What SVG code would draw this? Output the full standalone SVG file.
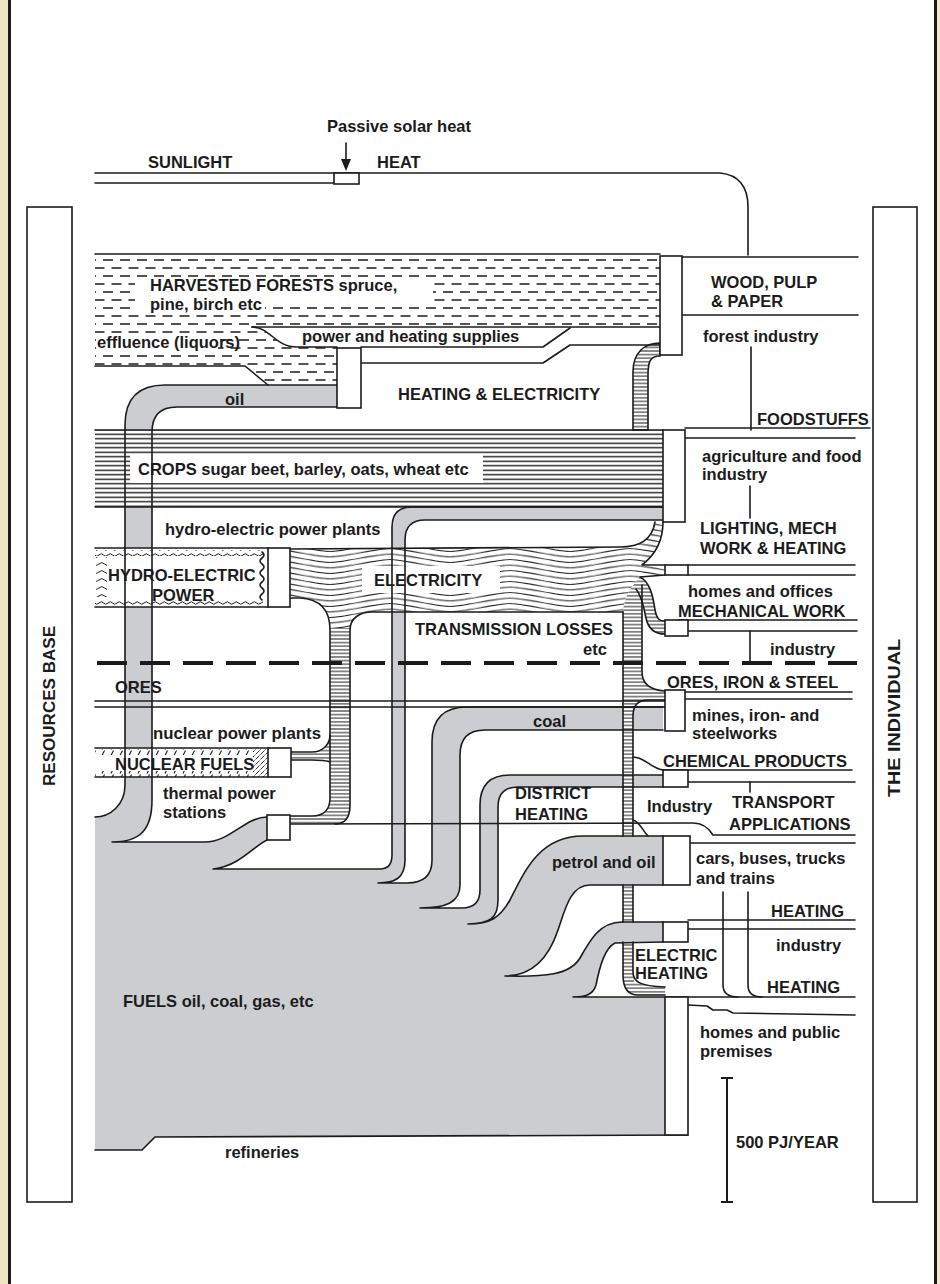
<svg xmlns="http://www.w3.org/2000/svg" width="940" height="1284" viewBox="0 0 940 1284">
<defs>
<style>
.ln{fill:none;stroke:#1b1b1b;stroke-width:1.6;stroke-linecap:round;stroke-linejoin:round}
.box{fill:#fff;stroke:#1b1b1b;stroke-width:1.6}
.gray{fill:#cbcdd0}
.wh{fill:#fff}
.t{font-family:"Liberation Sans",Arial,Helvetica,sans-serif;font-weight:bold;font-size:16.5px;fill:#1b1b1b}
</style>
<pattern id="dash" width="17" height="16" patternUnits="userSpaceOnUse">
<path d="M1 4H11M9.5 12H19.5M-7.5 12H2.5" stroke="#1b1b1b" stroke-width="1.5"/>
</pattern>
<pattern id="lines" width="10" height="4.5" patternUnits="userSpaceOnUse">
<path d="M0 2.25H10" stroke="#1b1b1b" stroke-width="1.4"/>
</pattern>
<pattern id="stripe" width="10" height="3.6" patternUnits="userSpaceOnUse">
<path d="M0 1.8H10" stroke="#1b1b1b" stroke-width="1"/>
</pattern>
<pattern id="wave" width="120" height="5.5" patternUnits="userSpaceOnUse">
<path d="M0 2.75C30 -2.75 30 -2.75 60 2.75S90 8.25 120 2.75M0 -2.75C30 -8.25 30 -8.25 60 -2.75S90 2.75 120 -2.75M0 8.25C30 2.75 30 2.75 60 8.25S90 13.75 120 8.25" fill="none" stroke="#1b1b1b" stroke-width="1"/>
</pattern>
<pattern id="ripple" width="9" height="6" patternUnits="userSpaceOnUse">
<path d="M0 3Q2.25 0.5 4.5 3T9 3" fill="none" stroke="#1b1b1b" stroke-width="1"/>
</pattern>
<pattern id="ripple2" width="11" height="8" patternUnits="userSpaceOnUse">
<path d="M0 4Q2.75 1 5.5 4T11 4" fill="none" stroke="#1b1b1b" stroke-width="1"/>
</pattern>
<pattern id="tick" width="9" height="6" patternUnits="userSpaceOnUse">
<path d="M3 5.5L5.5 0.5" stroke="#1b1b1b" stroke-width="1.1"/>
</pattern>
<pattern id="tick2" width="5" height="5" patternUnits="userSpaceOnUse">
<path d="M0.5 4.5L4.5 0.5" stroke="#1b1b1b" stroke-width="0.9"/>
</pattern>
</defs>

<rect width="940" height="1284" fill="#fff"/>

<g id="frame">
<rect x="0" y="0" width="8" height="1284" fill="#f1e6c4"/>
<rect x="937" y="0" width="3" height="1284" fill="#f1e6c4"/>
<path d="M9.5 0V1284M935.5 0V1284" stroke="#1b1b1b" stroke-width="3"/>
</g>

<g id="resources-base">
<rect x="27" y="207" width="45" height="995" class="box"/>
<text class="t" transform="translate(55 706) rotate(-90)" text-anchor="middle" font-size="15" textLength="160" lengthAdjust="spacingAndGlyphs">RESOURCES BASE</text>
</g>

<g id="the-individual">
<rect x="873" y="207" width="44" height="995" class="box"/>
<text class="t" transform="translate(900 718) rotate(-90)" text-anchor="middle" font-size="15" textLength="158" lengthAdjust="spacingAndGlyphs">THE INDIVIDUAL</text>
</g>

<g id="fuels">
<path class="gray" d="M95 1150L95 817C110 817 125 805 125 785L152 785L152 800C152 830 140 842 112 842L205 842C230 842 245 817 267 817L267 840C255 845 240 866 213 869L380 869Q392 869 392 855L392 830L405 830L405 860C405 878 395 883 378 883L407 883Q432 883 432 860L432 830L460 830L460 885C460 903 445 908 420 908L462 908Q480 908 480 890L480 830L498 830L498 900C498 918 490 924 468 924C490 924 500 918 510 900C525 870 540 836 583 836L663 836L663 885L590 885C570 885 565 910 558 930C548 960 530 976 505 976C545 977 570 975 580 958C590 940 600 922 622 922L663 922L663 942L615 943C605 948 600 965 596 985C593 995 585 997 573 997L665 997L665 1135L155 1137L142 1150Z"/>
<path class="gray" d="M337 385L165 385Q125 385 125 425L125 790L152 790L152 432Q152 407 177 407L337 407Z"/>
<path class="gray" d="M663 507L412 507Q392 507 392 527L392 835L405 835L405 540Q405 520 425 520L663 520Z"/>
<path class="gray" d="M663 707L467 707Q432 707 432 742L432 835L460 835L460 755Q460 730 485 730L663 730Z"/>
<path class="gray" d="M663 775L510 775Q480 775 480 805L480 835L498 835L498 807Q498 787 518 787L663 787Z"/>
</g>

<g id="forests">
<path class="wh" d="M95 254H660V327H252C270 327 275 347 297 347H337V385H268L245 366H95Z"/>
<path fill="url(#dash)" d="M95 254H660V327H252C270 327 275 347 297 347H337V385H268L245 366H95Z"/>
<rect x="135" y="277" width="298" height="25" class="wh"/>
<rect x="135" y="300" width="130" height="15" class="wh"/>
<rect x="96" y="334" width="122" height="18" class="wh"/>
</g>

<g id="crops">
<rect x="95" y="430" width="568" height="77" class="wh"/>
<rect x="95" y="430" width="568" height="77" fill="url(#lines)"/>
<rect x="130" y="455" width="353" height="28" class="wh"/>
</g>

<g id="hydro">
<rect x="95" y="548" width="173" height="59" class="wh"/>
<rect x="95" y="550" width="168" height="6" fill="url(#ripple)"/>
<rect x="95" y="599" width="168" height="6" fill="url(#ripple)"/>
<rect x="96" y="557" width="11" height="40" fill="url(#ripple2)"/>
<path class="ln" stroke-width="1.1" d="M262 552q4 3 0 6q-4 3 0 6q4 3 0 6q-4 3 0 6q4 3 0 6q-4 3 0 6q4 3 0 6q-4 3 0 6"/>
</g>

<g id="nuclear">
<rect x="95" y="748" width="173" height="29" class="wh"/>
<rect x="95" y="749" width="158" height="6" fill="url(#tick)"/>
<rect x="95" y="771" width="158" height="6" fill="url(#tick)"/>
<rect x="253" y="749" width="15" height="28" fill="url(#tick2)"/>
</g>

<g id="electricity">
<path class="wh" d="M290 549L620 547C640 547 652 540 655 522L663 522C663 542 655 555 642 565L665 565L665 575L640 577C630 588 624 598 623 612L372 612C360 612 350 618 350 630L330 630C330 610 320 599 300 598L290 598Z"/>
<path fill="url(#wave)" d="M290 549L620 547C640 547 652 540 655 522L663 522C663 542 655 555 642 565L665 565L665 575L640 577C630 588 624 598 623 612L372 612C360 612 350 618 350 630L330 630C330 610 320 599 300 598L290 598Z"/>
<path class="wh" d="M330 628L350 628L350 805C350 818 345 824 335 824L290 824L290 816L312 816C325 816 330 808 330 798Z"/>
<path fill="url(#stripe)" d="M330 628L350 628L350 805C350 818 345 824 335 824L290 824L290 816L312 816C325 816 330 808 330 798Z"/>
<path class="wh" d="M291 752L312 752C322 752 330 745 330 735L330 762C325 760 320 760 312 760L291 760Z"/>
<path fill="url(#stripe)" d="M291 752L312 752C322 752 330 745 330 735L330 762C325 760 320 760 312 760L291 760Z"/>
<path class="wh" d="M623 612C624 598 630 588 640 577L642 580L642 672C642 684 650 690 665 691L665 700L648 700C638 700 633 706 633 716L633 972C633 982 640 986 665 987L665 995L638 995C628 995 623 988 623 975Z"/>
<path fill="url(#stripe)" d="M623 612C624 598 630 588 640 577L642 580L642 672C642 684 650 690 665 691L665 700L648 700C638 700 633 706 633 716L633 972C633 982 640 986 665 987L665 995L638 995C628 995 623 988 623 975Z"/>
<path class="wh" d="M640 577C650 582 653 596 655 610C657 620 660 621 665 621L665 634C654 634 648 628 646 618C643 602 640 594 634 588Z"/>
<path fill="url(#stripe)" d="M640 577C650 582 653 596 655 610C657 620 660 621 665 621L665 634C654 634 648 628 646 618C643 602 640 594 634 588Z"/>
<path class="wh" d="M660 343L660 356C650 356 648 362 648 375L648 430L633 430L633 372C633 352 645 343 660 343Z"/>
<path fill="url(#stripe)" stroke="#1b1b1b" stroke-width="1.6" d="M660 343L660 356C650 356 648 362 648 375L648 430L633 430L633 372C633 352 645 343 660 343Z"/>
<rect x="362" y="566" width="138" height="27" class="wh"/>
<rect x="634" y="945" width="86" height="37" class="wh"/>
</g>

<g id="fuel-bands-over-grid">
<rect x="598" y="836" width="65" height="49" class="gray"/>
<rect x="616" y="922" width="47" height="20" class="gray"/>
</g>

<g id="connectors">
<path class="ln" d="M95 173H720C740 175 748 187 748 207V255"/>
<path class="ln" d="M95 183H334"/>
<path class="ln" d="M95 254H660"/>
<path class="ln" d="M95 366H245L268 385"/>
<path class="ln" d="M252 327H660"/>
<path class="ln" d="M252 327C270 327 275 347 297 347H337"/>
<path class="ln" d="M361 347H543L570 328"/>
<path class="ln" d="M361 363H543L570 345H660"/>
<path class="ln" d="M95 817C110 817 125 805 125 785L125 425Q125 385 165 385L337 385"/>
<path class="ln" d="M337 407L177 407Q152 407 152 432L152 800C152 830 140 842 112 842L205 842C230 842 245 817 267 817"/>
<path class="ln" d="M267 840C255 845 240 866 213 869L380 869Q392 869 392 855L392 527Q392 507 412 507L663 507"/>
<path class="ln" d="M663 520L425 520Q405 520 405 540L405 860C405 878 395 883 378 883L407 883Q432 883 432 860L432 742Q432 707 467 707L663 707"/>
<path class="ln" d="M663 730L485 730Q460 730 460 755L460 885C460 903 445 908 420 908L462 908Q480 908 480 890L480 805Q480 775 510 775L663 775"/>
<path class="ln" d="M663 787L518 787Q498 787 498 807L498 900C498 918 490 924 468 924C490 924 500 918 510 900C525 870 540 836 583 836L663 836"/>
<path class="ln" d="M663 885L590 885C570 885 565 910 558 930C548 960 530 976 505 976C545 977 570 975 580 958C590 940 600 922 622 922L663 922"/>
<path class="ln" d="M663 942L615 943C605 948 600 965 596 985C593 995 585 997 573 997L855 997"/>
<path class="ln" d="M95 1150L142 1150L155 1137L688 1135"/>
<path class="ln" d="M95 430H663M95 507H663"/>
<path class="ln" d="M95 548H268M95 607H268"/>
<path class="ln" d="M95 748H268M95 777H268"/>
<path class="ln" d="M95 701H665M95 707H665"/>
<path class="ln" d="M290 549L620 547C640 547 652 540 655 522"/>
<path class="ln" d="M663 522C663 542 655 555 642 565L665 565"/>
<path class="ln" d="M665 575L640 577C650 582 653 596 655 610C657 620 660 621 665 621"/>
<path class="ln" d="M665 634C654 634 648 628 646 618C643 602 640 594 636 589"/>
<path class="ln" d="M623 612L372 612C360 612 350 618 350 630L350 805C350 818 345 824 335 824"/>
<path class="ln" d="M290 598L300 598C320 599 330 610 330 630L330 798C330 808 325 816 312 816L290 816"/>
<path class="ln" d="M291 752L312 752C322 752 330 745 330 735M291 760L312 760C320 760 325 760 330 762"/>
<path class="ln" d="M623 612V836M623 885V922M623 942L623 975C623 988 628 995 638 995L665 995"/>
<path class="ln" d="M665 987C640 986 633 982 633 972L633 942M633 922V885M633 836L633 716C633 706 638 700 648 700L665 700"/>
<path class="ln" d="M665 691C650 690 642 684 642 672L642 585"/>
<path class="ln" d="M633 757C645 757 650 768 663 770"/>
<path class="ln" d="M633 820C640 822 642 830 648 836"/>
<path class="ln" d="M290 824L693 823C705 823 710 830 713 835L855 835"/>
<path class="ln" d="M690 843H855"/>
<path class="ln" d="M682 257H858M682 315H858"/>
<path class="ln" d="M751 347V430"/>
<path class="ln" d="M685 428H870M685 438H855"/>
<path class="ln" d="M750 486V518"/>
<path class="ln" d="M688 565H855M688 575H855"/>
<path class="ln" d="M678 620H857M688 631H857"/>
<path class="ln" d="M750 631V661"/>
<path class="ln" d="M665 692H852M685 699H852"/>
<path class="ln" d="M663 770H852M688 782H855"/>
<path class="ln" d="M750 782V792"/>
<path class="ln" d="M723 892V985Q723 997 738 997M748 892V985Q748 997 762 997"/>
<path class="ln" d="M688 920H855M688 929H855"/>
<path class="ln" d="M688 1005L707 1006L713 1010L727 1010L733 1013L855 1015"/>
<path d="M97 663H857" stroke="#1b1b1b" stroke-width="4" stroke-dasharray="30 13"/>
<path class="ln" d="M346 143V160"/>
<path d="M341 159L351 159L346 171Z" fill="#1b1b1b"/>
<path d="M727 1078V1202M721 1078H733M721 1202H733" stroke="#1b1b1b" stroke-width="2" fill="none"/>
</g>

<g id="junction-boxes">
<rect x="334" y="173" width="25" height="11" class="box"/>
<rect x="660" y="256" width="22" height="99" class="box"/>
<rect x="337" y="348" width="24" height="60" class="box"/>
<rect x="663" y="430" width="22" height="92" class="box"/>
<rect x="268" y="548" width="22" height="59" class="box"/>
<rect x="665" y="565" width="23" height="10" class="box"/>
<rect x="665" y="620" width="23" height="16" class="box"/>
<rect x="665" y="690" width="20" height="41" class="box"/>
<rect x="268" y="748" width="23" height="29" class="box"/>
<rect x="267" y="815" width="23" height="25" class="box"/>
<rect x="663" y="770" width="25" height="17" class="box"/>
<rect x="663" y="836" width="27" height="49" class="box"/>
<rect x="663" y="922" width="25" height="20" class="box"/>
<rect x="665" y="997" width="23" height="138" class="box"/>
</g>

<g id="labels">
<text class="t" x="327" y="132">Passive solar heat</text>
<text class="t" x="148" y="168">SUNLIGHT</text>
<text class="t" x="377" y="168">HEAT</text>
<text class="t" x="150" y="291">HARVESTED FORESTS spruce,</text>
<text class="t" x="150" y="310">pine, birch etc</text>
<text class="t" x="97" y="348">effluence (liquors)</text>
<text class="t" x="302" y="342">power and heating supplies</text>
<text class="t" x="225" y="405">oil</text>
<text class="t" x="398" y="400">HEATING &amp; ELECTRICITY</text>
<text class="t" x="138" y="475">CROPS sugar beet, barley, oats, wheat etc</text>
<text class="t" x="165" y="535">hydro-electric power plants</text>
<text class="t" x="108" y="581">HYDRO-ELECTRIC</text>
<text class="t" x="152" y="601">POWER</text>
<text class="t" x="374" y="586">ELECTRICITY</text>
<text class="t" x="415" y="635">TRANSMISSION LOSSES</text>
<text class="t" x="583" y="655">etc</text>
<text class="t" x="115" y="693">ORES</text>
<text class="t" x="153" y="739" textLength="168" lengthAdjust="spacingAndGlyphs">nuclear power plants</text>
<text class="t" x="115" y="770">NUCLEAR FUELS</text>
<text class="t" x="163" y="799">thermal power</text>
<text class="t" x="163" y="818">stations</text>
<text class="t" x="533" y="727">coal</text>
<text class="t" x="515" y="799">DISTRICT</text>
<text class="t" x="515" y="820">HEATING</text>
<text class="t" x="552" y="868">petrol and oil</text>
<text class="t" x="635" y="961">ELECTRIC</text>
<text class="t" x="635" y="979">HEATING</text>
<text class="t" x="123" y="1007">FUELS oil, coal, gas, etc</text>
<text class="t" x="225" y="1158">refineries</text>
<text class="t" x="711" y="288">WOOD, PULP</text>
<text class="t" x="711" y="307">&amp; PAPER</text>
<text class="t" x="703" y="342">forest industry</text>
<text class="t" x="757" y="425">FOODSTUFFS</text>
<text class="t" x="702" y="462">agriculture and food</text>
<text class="t" x="702" y="480">industry</text>
<text class="t" x="700" y="534">LIGHTING, MECH</text>
<text class="t" x="700" y="554">WORK &amp; HEATING</text>
<text class="t" x="688" y="597">homes and offices</text>
<text class="t" x="678" y="617">MECHANICAL WORK</text>
<text class="t" x="770" y="655">industry</text>
<text class="t" x="667" y="688">ORES, IRON &amp; STEEL</text>
<text class="t" x="692" y="721">mines, iron- and</text>
<text class="t" x="692" y="739">steelworks</text>
<text class="t" x="663" y="767">CHEMICAL PRODUCTS</text>
<text class="t" x="647" y="812">Industry</text>
<text class="t" x="732" y="808">TRANSPORT</text>
<text class="t" x="729" y="830">APPLICATIONS</text>
<text class="t" x="696" y="864">cars, buses, trucks</text>
<text class="t" x="696" y="884">and trains</text>
<text class="t" x="771" y="917">HEATING</text>
<text class="t" x="776" y="951">industry</text>
<text class="t" x="767" y="993">HEATING</text>
<text class="t" x="700" y="1038">homes and public</text>
<text class="t" x="700" y="1057">premises</text>
<text class="t" x="736" y="1148">500 PJ/YEAR</text>
</g>
</svg>
